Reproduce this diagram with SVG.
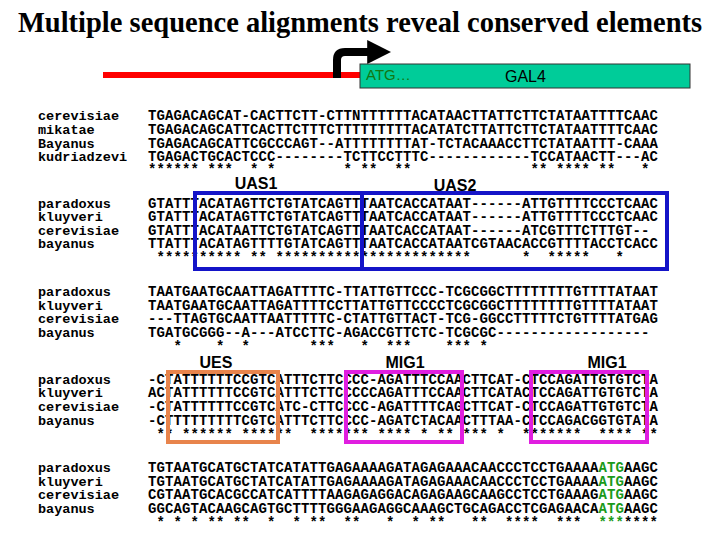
<svg xmlns="http://www.w3.org/2000/svg" width="720" height="540" viewBox="0 0 720 540">
<style>
.t{font-family:"Liberation Serif",serif;font-weight:bold;font-size:28.5px}
.n{font-family:"Liberation Mono",monospace;font-weight:bold;font-size:13.5px;white-space:pre}
.s{font-family:"Liberation Mono",monospace;font-weight:bold;font-size:14px;letter-spacing:0.1px;white-space:pre}
.l{font-family:"Liberation Sans",Arial,sans-serif;font-weight:bold;font-size:16px;text-anchor:middle}
.bx{fill:none;stroke-width:4}
</style>
<defs><marker id="ah" viewBox="0 0 10 10" refX="2" refY="5" markerWidth="3" markerHeight="3" orient="auto"><path d="M0,0L10,5L0,10z" fill="#000"/></marker></defs>
<rect width="720" height="540" fill="#fff"/>
<text class="t" x="360" y="32" text-anchor="middle">Multiple sequence alignments reveal conserved elements</text>
<g id="gene">
<line x1="103" y1="75" x2="362" y2="75" stroke="#f00" stroke-width="6"/>
<path d="M337,78V60Q337,52 345,52H372" fill="none" stroke="#000" stroke-width="8" marker-end="url(#ah)"/>
<rect x="360" y="64" width="330" height="24" fill="#00cc99" stroke="#333"/>
<text x="366" y="80" font-family="Liberation Sans,sans-serif" font-size="15" fill="#127812">ATG…</text>
<text x="505" y="82" font-family="Liberation Sans,sans-serif" font-size="16">GAL4</text>
</g>
<g id="block1">
<text class="n" x="38" y="120">cerevisiae</text><text class="s" x="148" y="120">TGAGACAGCAT-CACTTCTT-CTTNTTTTTTACATAACTTATTCTTCTATAATTTTCAAC</text>
<text class="n" x="38" y="134">mikatae</text><text class="s" x="148" y="134">TGAGACAGCATTCACTTCTTTCTTTTTTTTTACATATCTTATTCTTCTATAATTTTCAAC</text>
<text class="n" x="38" y="148">Bayanus</text><text class="s" x="148" y="148">TGAGACAGCATTCGCCCAGT--ATTTTTTTTAT-TCTACAAACCTTCTATAATTT-CAAA</text>
<text class="n" x="38" y="161">kudriadzevi</text><text class="s" x="148" y="161">TGAGACTGCACTCCC--------TCTTCCTTTC------------TCCATAACTT---AC</text>
<text class="s" x="148" y="174">****** ***  * *        * **  **              ** **** **   * </text>
<text class="l" x="256" y="189">UAS1</text><text class="l" x="455" y="191">UAS2</text>
</g>
<g id="block2">
<text class="n" x="38" y="208">paradoxus</text><text class="s" x="148" y="208">GTATTTACATAGTTCTGTATCAGTTTAATCACCATAAT------ATTGTTTTCCCTCAAC</text>
<text class="n" x="38" y="221">kluyveri</text><text class="s" x="148" y="221">GTATTTACATAGTTCTGTATCAGTTTAATCACCATAAT------ATTGTTTTCCCTCAAC</text>
<text class="n" x="38" y="235">cerevisiae</text><text class="s" x="148" y="235">GTATTTACATAATTCTGTATCAGTTTAATCACCATAAT------ATCGTTTCTTTGT--</text>
<text class="n" x="38" y="248">bayanus</text><text class="s" x="148" y="248">TTATTTACATAGTTTTGTATCAGTTTAATCACCATAATCGTAACACCGTTTTACCTCACC</text>
<text class="s" x="148" y="262"> ********** ** ***********************      *  *****   *    </text>
<rect class="bx" x="195" y="193" width="472" height="76" stroke="#1414c8"/>
<line x1="362" y1="193" x2="362" y2="269" stroke="#1414c8" stroke-width="4"/>
</g>
<g id="block3">
<text class="n" x="38" y="296">paradoxus</text><text class="s" x="148" y="296">TAATGAATGCAATTAGATTTTC-TTATTGTTCCC-TCGCGGCTTTTTTTTGTTTTATAAT</text>
<text class="n" x="38" y="310">kluyveri</text><text class="s" x="148" y="310">TAATGAATGCAATTAGATTTTCCTTATTGTTCCCCTCGCGGCTTTTTTTTGTTTTATAAT</text>
<text class="n" x="38" y="323">cerevisiae</text><text class="s" x="148" y="323">---TTAGTGCAATTAATTTTTC-CTATTGTTACT-TCG-GGCCTTTTTCTGTTTTATGAG</text>
<text class="n" x="38" y="337">bayanus</text><text class="s" x="148" y="337">TGATGCGGG--A---ATCCTTC-AGACCGTTCTC-TCGCGC------------------</text>
<text class="s" x="148" y="351">   *    *  *       ***   *  ***    *** *</text>
</g>
<g id="block4">
<text class="l" x="216" y="368">UES</text><text class="l" x="405" y="368">MIG1</text><text class="l" x="607" y="368">MIG1</text>
<text class="n" x="38" y="384">paradoxus</text><text class="s" x="148" y="384">-CTATTTTTTCCGTCATTTCTTCCCC-AGATTTCCAACTTCAT-CTCCAGATTGTGTCTA</text>
<text class="n" x="38" y="397">kluyveri</text><text class="s" x="148" y="397">ACTATTTTTTCCGTCATTTCTTCCCCCAGATTTCCAACTTCATACTCCAGATTGTGTCTA</text>
<text class="n" x="38" y="411">cerevisiae</text><text class="s" x="148" y="411">-CTATTTTTTCCGTCATC-CTTCCCC-AGATTTTCAGCTTCAT-CTCCAGATTGTGTCTA</text>
<text class="n" x="38" y="425">bayanus</text><text class="s" x="148" y="425">-CTTTTTTTTTCGTCATTTCTTCCCC-AGATCTACAACTTTAA-CTCCAGACGGTGTATA</text>
<text class="s" x="148" y="439"> ** ****** ******  ******* **** * ** *** *  *******  **** **</text>
<rect class="bx" x="168" y="372" width="110" height="70" stroke="#e8844c"/>
<rect class="bx" x="346" y="372" width="116" height="70" stroke="#e01ee0"/>
<rect class="bx" x="531" y="372" width="116" height="70" stroke="#e01ee0"/>
</g>
<g id="block5">
<text class="n" x="38" y="472">paradoxus</text><text class="s" x="148" y="472">TGTAATGCATGCTATCATATTGAGAAAAGATAGAGAAACAACCCTCCTGAAAA<tspan fill="#1a9a1a">ATG</tspan>AAGC</text>
<text class="n" x="38" y="486">kluyveri</text><text class="s" x="148" y="486">TGTAATGCATGCTATCATATTGAGAAAAGATAGAGAAACAACCCTCCTGAAAA<tspan fill="#1a9a1a">ATG</tspan>AAGC</text>
<text class="n" x="38" y="499">cerevisiae</text><text class="s" x="148" y="499">CGTAATGCACGCCATCATTTTAAGAGAGGACAGAGAAGCAAGCCTCCTGAAAG<tspan fill="#1a9a1a">ATG</tspan>AAGC</text>
<text class="n" x="38" y="513">bayanus</text><text class="s" x="148" y="513">GGCAGTACAAGCAGTGCTTTTGGGAAGAGGCAAAGCTGCAGACCTCGAGAACA<tspan fill="#1a9a1a">ATG</tspan>AAGC</text>
<text class="s" x="148" y="527"> * * * ** **  *  * **  **   *  * **   **  ****  ***  <tspan fill="#1a9a1a">***</tspan>****</text>
</g>
</svg>
